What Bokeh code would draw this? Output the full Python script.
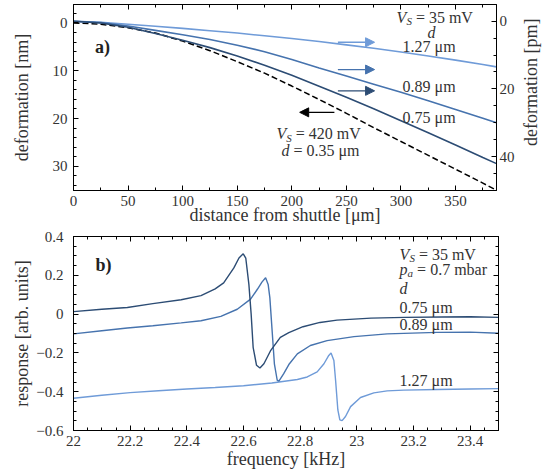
import math
from bokeh.plotting import figure
from bokeh.models import (Range1d, LinearAxis, FixedTicker, Label, Arrow, NormalHead,
                          CustomJSTickFormatter)
from bokeh.layouts import column, row
from bokeh.embed import file_html
from bokeh.resources import INLINE

# ---------------- panel a) data ----------------
dist_um = [0, 25, 50, 75, 100, 125, 150, 175, 200, 225, 250, 275, 300, 325, 350, 375, 387.5]
defl_420mV_035um_nm = [0, 0.25, 1.0, 2.1, 3.8, 5.8, 8.1, 10.5, 13.2, 16.0, 18.9, 21.9, 24.8, 27.7, 30.6, 33.5, 35.0]
defl_35mV_127um_pm = [0, 0.3, 0.9, 1.5, 2.1, 2.8, 3.5, 4.3, 5.1, 6.0, 7.0, 8.0, 9.1, 10.3, 11.5, 12.8, 13.5]
defl_35mV_089um_pm = [0, 0.4, 1.4, 2.7, 4.0, 5.4, 7.1, 9.0, 11.3, 13.8, 16.2, 18.6, 21.0, 23.5, 26.1, 28.7, 30.0]
defl_35mV_075um_pm = [0, 0.5, 1.8, 3.6, 5.6, 7.8, 10.3, 13.0, 16.0, 19.2, 22.5, 25.9, 29.4, 33.0, 36.6, 40.3, 42.1]

dist_ticks = [0, 50, 100, 150, 200, 250, 300, 350]
nm_ticks = [0, 10, 20, 30]
pm_ticks = [0, 20, 40]

# ---------------- panel b) data ----------------
f_075 = [22.0, 22.1, 22.19, 22.28, 22.38, 22.45, 22.5, 22.53, 22.566, 22.584, 22.599, 22.608, 22.619,
         22.627, 22.634, 22.646, 22.658, 22.672, 22.695, 22.73, 22.76, 22.81, 22.87, 22.93, 23.05,
         23.17, 23.3, 23.4, 23.5]
r_075 = [0.013, 0.025, 0.034, 0.054, 0.074, 0.095, 0.13, 0.161, 0.238, 0.289, 0.311, 0.289, 0.153,
         0.0, -0.171, -0.264, -0.278, -0.256, -0.19, -0.12, -0.095, -0.065, -0.043, -0.031, -0.021,
         -0.017, -0.015, -0.014, -0.017]
f_089 = [22.0, 22.1, 22.19, 22.28, 22.38, 22.45, 22.52, 22.578, 22.625, 22.649, 22.665, 22.678, 22.687,
         22.693, 22.701, 22.709, 22.719, 22.725, 22.742, 22.76, 22.79, 22.836, 22.895, 22.99, 23.107,
         23.283, 23.4, 23.5]
r_089 = [-0.102, -0.086, -0.072, -0.06, -0.045, -0.034, -0.012, 0.025, 0.077, 0.128, 0.165, 0.187, 0.153,
         0.085, -0.085, -0.256, -0.341, -0.345, -0.307, -0.26, -0.205, -0.162, -0.137, -0.116, -0.102,
         -0.094, -0.093, -0.099]
f_127 = [22.0, 22.1, 22.2, 22.3, 22.4, 22.5, 22.6, 22.7, 22.79, 22.825, 22.86, 22.884, 22.901, 22.909,
         22.919, 22.925, 22.933, 22.94, 22.948, 22.96, 22.978, 23.013, 23.06, 23.107, 23.166, 23.284,
         23.4, 23.5]
r_127 = [-0.434, -0.418, -0.405, -0.395, -0.386, -0.378, -0.369, -0.355, -0.337, -0.324, -0.298, -0.256,
         -0.213, -0.201, -0.239, -0.341, -0.494, -0.545, -0.549, -0.528, -0.477, -0.43, -0.406, -0.396,
         -0.392, -0.389, -0.386, -0.384]

freq_ticks = [22.0, 22.2, 22.4, 22.6, 22.8, 23.0, 23.2, 23.4]
resp_ticks = [-0.6, -0.4, -0.2, 0.0, 0.2, 0.4]

C127 = "#6f9bd8"
C089 = "#4673ae"
C075 = "#2c4c74"
FONT = "Liberation Serif"
TXT = "#333333"

FMT = CustomJSTickFormatter(code="var v = Math.round(tick*1000)/1000; return String(v).replace('-', '\u2212');")


def style_axis(ax, ticks, minor, labels=True, standoff=4):
    ax.ticker = FixedTicker(ticks=ticks, minor_ticks=minor)
    ax.major_tick_in = 5
    ax.major_tick_out = 0
    ax.minor_tick_in = 3
    ax.minor_tick_out = 0
    ax.axis_line_color = "black"
    ax.major_tick_line_color = "black"
    ax.minor_tick_line_color = "black"
    ax.formatter = FMT
    ax.major_label_text_font = FONT
    ax.major_label_text_color = TXT
    ax.major_label_text_font_size = "15px"
    ax.major_label_standoff = standoff
    if not labels:
        ax.major_label_text_color = None
        ax.major_label_text_font_size = "1px"
        ax.major_label_standoff = 0
    ax.axis_label_text_font = FONT
    ax.axis_label_text_font_size = "18px"
    ax.axis_label_text_font_style = "normal"
    ax.axis_label_text_color = TXT


W_EM = {"0": .5, "1": .5, "2": .5, "3": .5, "4": .5, "5": .5, "6": .5, "7": .5, "8": .5, "9": .5,
        ".": .25, " ": .25, "=": .564, "m": .778, "V": .722, "b": .5, "a": .444, "r": .333,
        "μ": .576}
W_IT = {"V": .611, "S": .5, "p": .5, "a": .5, "d": .5}


def rich(p, x, y, pieces, dsub, size=16):
    off = 0.0
    for txt, st in pieces:
        if st == "sub":
            fs, sty, yy, tab = 11, "italic", y + dsub, W_IT
        elif st == "i":
            fs, sty, yy, tab = size, "italic", y, W_IT
        else:
            fs, sty, yy, tab = size, "normal", y, W_EM
        lead = len(txt) - len(txt.lstrip(" "))
        off += lead * 0.25 * fs
        body = txt.lstrip(" ")
        p.add_layout(Label(x=x, y=yy, x_offset=off, text=body, text_font=FONT,
                           text_font_size=f"{fs}px", text_font_style=sty, text_color=TXT,
                           text_align="left", text_baseline="middle"))
        off += sum(tab.get(c, .5) for c in body) * fs


# ================= panel a =================
H1 = 227
p1 = figure(width=517, height=H1, x_range=Range1d(0, 387.5), y_range=Range1d(35.05, -3.86),
            output_backend="svg", toolbar_location=None,
            min_border_left=73, min_border_right=19, min_border_top=4, min_border_bottom=0)
p1.extra_y_ranges = {"pm": Range1d(50.05, -4.95)}
p1.grid.visible = False
p1.outline_line_color = "black"

bottom1 = p1.below[0]
left1 = p1.left[0]
top1 = LinearAxis()
right1 = LinearAxis(y_range_name="pm")
p1.add_layout(top1, "above")
p1.add_layout(right1, "right")

dist_minor = [v for v in range(25, 400, 50)]
nm_minor = [v for v in range(-2, 36, 2) if v % 10 != 0]
pm_minor = [v for v in range(-5, 51, 5) if v % 20 != 0]

style_axis(bottom1, dist_ticks, dist_minor, standoff=5)
bottom1.axis_label = "distance from shuttle [μm]"
bottom1.axis_label_standoff = -4
style_axis(left1, nm_ticks, nm_minor, standoff=6)
left1.axis_label = "deformation [nm]"
left1.axis_label_standoff = 18
style_axis(top1, dist_ticks, dist_minor, labels=False)
style_axis(right1, pm_ticks, pm_minor, standoff=3)

p1.line(dist_um, defl_420mV_035um_nm, line_color="black", line_width=1.5, line_dash="6 3")
p1.line(dist_um, defl_35mV_127um_pm, line_color=C127, line_width=1.6, y_range_name="pm")
p1.line(dist_um, defl_35mV_089um_pm, line_color=C089, line_width=1.6, y_range_name="pm")
p1.line(dist_um, defl_35mV_075um_pm, line_color=C075, line_width=1.6, y_range_name="pm")

for yv, c in [(4.04, C127), (9.75, C089), (14.2, C075)]:
    p1.add_layout(Arrow(end=NormalHead(size=9, fill_color=c, line_color=c), x_start=242.2, y_start=yv,
                        x_end=275.8, y_end=yv, line_color=c, line_width=1.3))
p1.add_layout(Arrow(end=NormalHead(size=9, fill_color="black", line_color="black"), x_start=239.0,
                    y_start=18.7, x_end=207.2, y_end=18.7, line_color="black", line_width=1.3))

DS1 = 0.85
p1.add_layout(Label(x=19.8, y=5.0, text="a)", text_font=FONT, text_font_size="18px",
                    text_font_style="bold", text_color="#222222", text_baseline="middle"))
rich(p1, 296, -1.2, [("V", "i"), ("S", "sub"), (" = 35 mV", "n")], DS1)
rich(p1, 324.2, 1.9, [("d", "i")], DS1)
rich(p1, 301.5, 4.9, [("1.27 μm", "n")], DS1)
rich(p1, 301.5, 13.3, [("0.89 μm", "n")], DS1)
rich(p1, 301.5, 19.7, [("0.75 μm", "n")], DS1)
rich(p1, 186, 23.2, [("V", "i"), ("S", "sub"), (" = 420 mV", "n")], DS1)
rich(p1, 190.5, 26.6, [("d", "i"), (" = 0.35 μm", "n")], DS1)

# narrow strip carrying the right-hand axis title (reads bottom to top)
plab = figure(width=25, height=H1, x_range=Range1d(0, 25), y_range=Range1d(0, H1),
              output_backend="svg", toolbar_location=None, x_axis_location=None,
              y_axis_location=None, min_border=0)
plab.grid.visible = False
plab.outline_line_color = None
plab.add_layout(Label(x=13.7, y=H1 - 95, text="deformation [pm]", angle=math.pi / 2, text_font=FONT,
                      text_font_size="18px", text_color=TXT, text_align="center",
                      text_baseline="middle"))

# ================= panel b =================
p2 = figure(width=542, height=244, x_range=Range1d(22, 23.5), y_range=Range1d(-0.6, 0.4),
            output_backend="svg", toolbar_location=None,
            min_border_left=73, min_border_right=44, min_border_top=9, min_border_bottom=0)
p2.grid.visible = False
p2.outline_line_color = "black"
bottom2 = p2.below[0]
left2 = p2.left[0]
top2 = LinearAxis()
right2 = LinearAxis()
p2.add_layout(top2, "above")
p2.add_layout(right2, "right")

freq_minor = [round(22 + 0.05 * i, 2) for i in range(31) if i % 4 != 0]
resp_minor = [round(-0.6 + 0.05 * i, 2) for i in range(21) if i % 4 != 0]

style_axis(bottom2, freq_ticks, freq_minor, standoff=5)
bottom2.axis_label = "frequency [kHz]"
bottom2.axis_label_standoff = 0
style_axis(left2, resp_ticks, resp_minor, standoff=10)
left2.axis_label = "response [arb. units]"
left2.axis_label_standoff = 1
style_axis(top2, freq_ticks, freq_minor, labels=False)
style_axis(right2, resp_ticks, resp_minor, labels=False)

p2.line(f_127, r_127, line_color=C127, line_width=1.4)
p2.line(f_089, r_089, line_color=C089, line_width=1.4)
p2.line(f_075, r_075, line_color=C075, line_width=1.4)

DS2 = -0.021
p2.add_layout(Label(x=22.078, y=0.254, text="b)", text_font=FONT, text_font_size="18px",
                    text_font_style="bold", text_color="#222222", text_baseline="middle"))
XB = 23.151
rich(p2, XB, 0.308, [("V", "i"), ("S", "sub"), (" = 35 mV", "n")], DS2)
rich(p2, XB, 0.231, [("p", "i"), ("a", "sub"), (" = 0.7 mbar", "n")], DS2)
rich(p2, XB, 0.134, [("d", "i")], DS2)
rich(p2, XB, 0.032, [("0.75 μm", "n")], DS2)
rich(p2, XB, -0.055, [("0.89 μm", "n")], DS2)
rich(p2, XB, -0.341, [("1.27 μm", "n")], DS2)

layout = column(row(p1, plab), p2)
open("out.html", "w").write(file_html(layout, INLINE))
